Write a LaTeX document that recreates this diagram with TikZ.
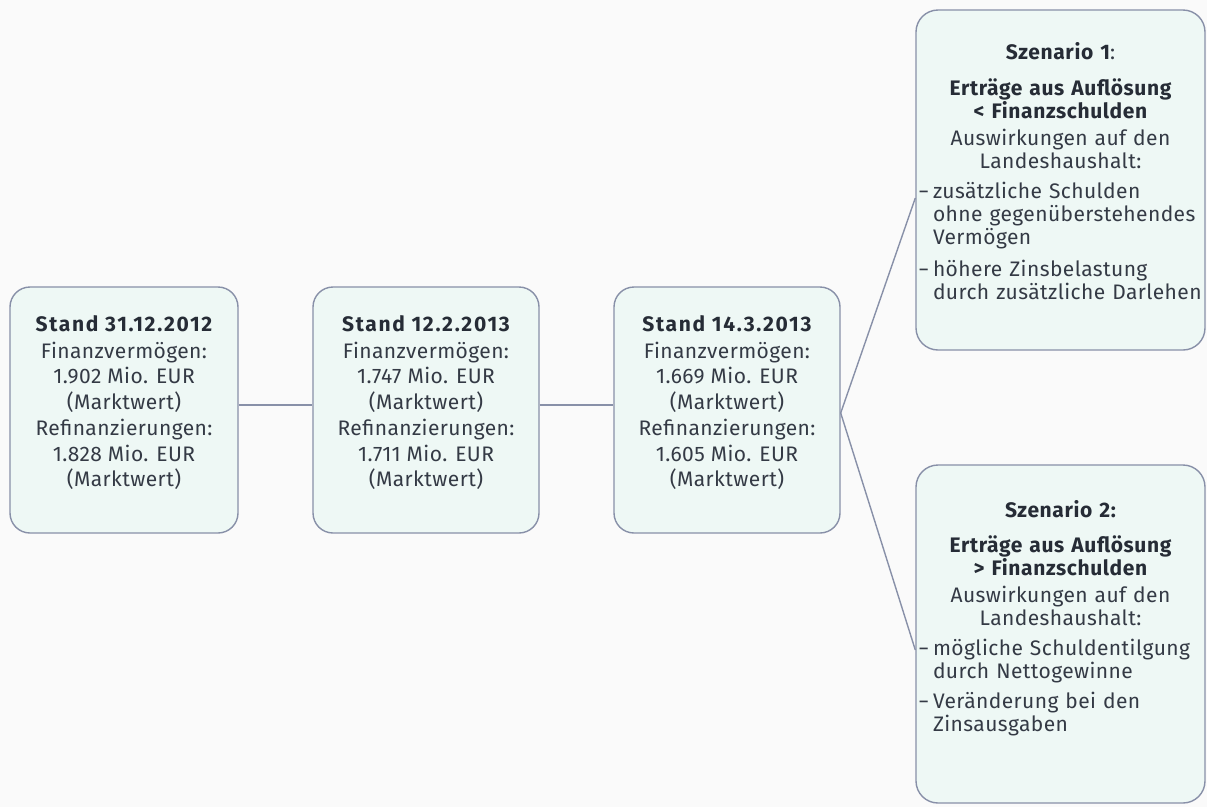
\documentclass[tikz,border=0pt]{standalone}
\usepackage{fontspec}
\setmainfont[LetterSpace=2]{Fira Sans}
\newfontfamily\titlefont[LetterSpace=8]{Fira Sans Bold}
\newfontfamily\headfont[LetterSpace=3]{Fira Sans Bold}
\definecolor{bgc}{HTML}{FAFAFA}
\definecolor{boxfill}{HTML}{EEF8F5}
\definecolor{boxline}{HTML}{8890A8}
\definecolor{txt}{HTML}{343A45}
\definecolor{txtb}{HTML}{262C36}
\begin{document}
\begin{tikzpicture}[x=1pt,y=-1pt]
\tikzset{
  stbox/.style={draw=boxline, line width=1.4pt, fill=boxfill, rounded corners=20pt, inner sep=0pt, minimum width=#1, minimum height=246pt},
  scbox/.style={draw=boxline, line width=1.4pt, fill=boxfill, rounded corners=22pt, inner sep=0pt, minimum width=289pt, minimum height=#1},
  sttext/.style={text=txt, align=center, inner sep=0pt, font=\fontsize{21}{25.5}\selectfont},
  sctext/.style={text=txt, align=left, text width=289pt, inner sep=0pt, font=\fontsize{21}{23}\selectfont},
  conn/.style={draw=boxline, line width=1.4pt}
}
\newcommand{\sttitle}[1]{{\color{txtb}\titlefont #1}}
\newcommand{\schead}[1]{{\color{txtb}\headfont #1}}
\newcommand{\bul}{\hangindent=17pt\hangafter=1\noindent\makebox[17pt][l]{\hspace{3pt}\scalebox{0.85}[1]{–}}}
\newcommand{\brk}{\hfil\break}
\fill[bgc] (0,0) rectangle (1207,807);
\useasboundingbox (0,0) rectangle (1207,807);

\node[stbox=228pt] (b1) at (124,410) {};
\node[stbox=226pt] (b2) at (426,410) {};
\node[stbox=226pt] (b3) at (727,410) {};
\node[scbox=340pt] (s1) at (1060.5,180) {};
\node[scbox=338pt] (s2) at (1060.5,634) {};

\node[sttext] (b1t) at ([yshift=7pt]b1.center) {\sttitle{Stand 31.12.2012}\\[1pt]Finanzvermögen:\\1.902 Mio. EUR\\(Marktwert)\\[1pt]Refinanzierungen:\\1.828 Mio. EUR\\(Marktwert)};
\node[sttext] (b2t) at ([yshift=7pt]b2.center) {\sttitle{Stand 12.2.2013}\\[1pt]Finanzvermögen:\\1.747 Mio. EUR\\(Marktwert)\\[1pt]Refinanzierungen:\\1.711 Mio. EUR\\(Marktwert)};
\node[sttext] (b3t) at ([yshift=7pt]b3.center) {\sttitle{Stand 14.3.2013}\\[1pt]Finanzvermögen:\\1.669 Mio. EUR\\(Marktwert)\\[1pt]Refinanzierungen:\\1.605 Mio. EUR\\(Marktwert)};

\node[sctext] (s1t) at ([yshift=9pt]s1.center) {%
{\centering\schead{Szenario 1}:\par}\vspace{13pt}%
{\centering\schead{Erträge aus Auflösung}\\\schead{< Finanzschulden}\par}\vspace{4pt}%
{\centering Auswirkungen auf den\\Landeshaushalt:\par}\vspace{7pt}%
{\bul zusätzliche Schulden\brk ohne gegenüberstehendes\brk Vermögen\par}\vspace{9pt}%
{\bul höhere Zinsbelastung\brk durch zusätzliche Darlehen\par}};

\node[sctext] (s2t) at ([yshift=16pt]s2.center) {%
{\centering\schead{Szenario 2:}\par}\vspace{12pt}%
{\centering\schead{Erträge aus Auflösung}\\\schead{> Finanzschulden}\par}\vspace{4pt}%
{\centering Auswirkungen auf den\\Landeshaushalt:\par}\vspace{7pt}%
{\bul mögliche Schuldentilgung\brk durch Nettogewinne\par}\vspace{7pt}%
{\bul Veränderung bei den\brk Zinsausgaben\par}};

\draw[conn] ([yshift=5pt]b1.east) -- ([yshift=5pt]b2.west);
\draw[conn] ([yshift=5pt]b2.east) -- ([yshift=5pt]b3.west);
\draw[conn] ([yshift=-3pt]b3.east) -- ([yshift=-18pt]s1.west);
\draw[conn] ([yshift=-3pt]b3.east) -- ([yshift=-16pt]s2.west);
\end{tikzpicture}
\end{document}
